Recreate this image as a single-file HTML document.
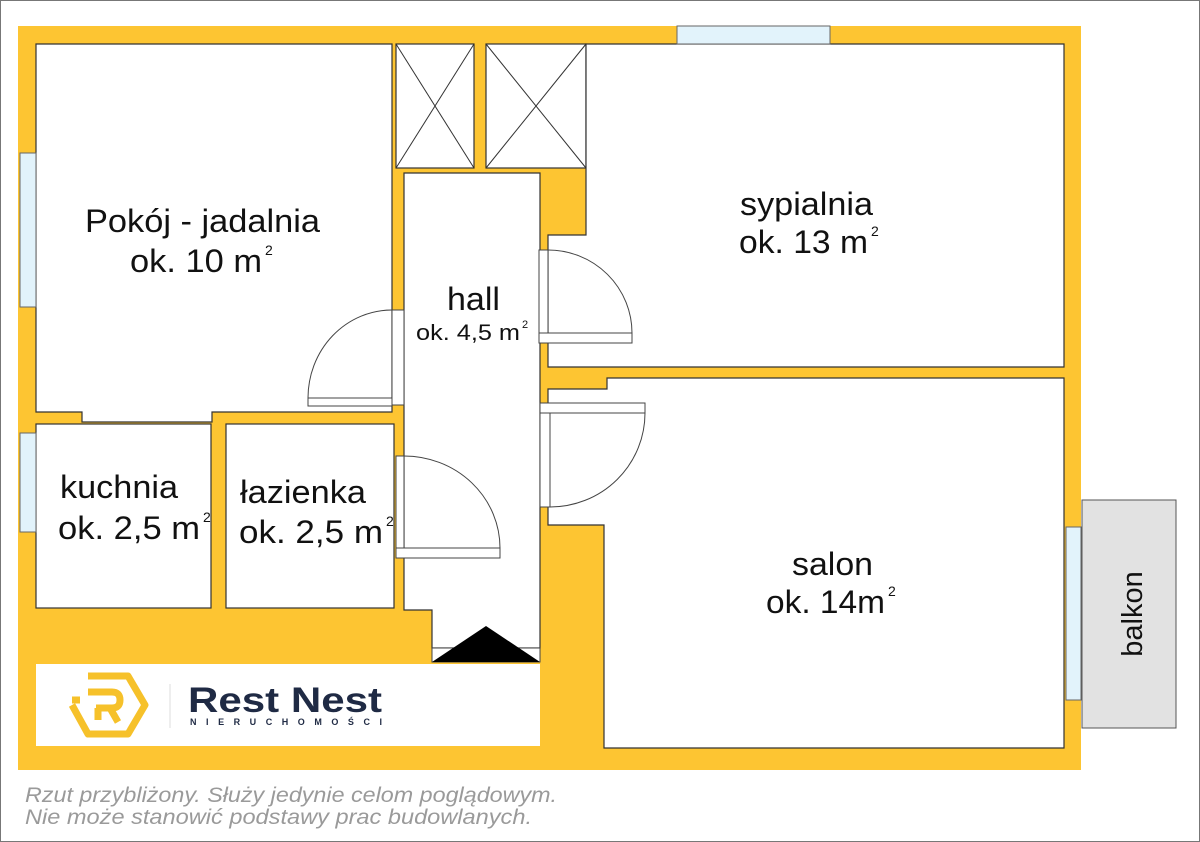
<!DOCTYPE html>
<html><head><meta charset="utf-8"><style>
html,body{margin:0;padding:0;background:#fff;}
svg{display:block;}
text{font-family:"Liberation Sans",sans-serif;fill:#111;}
</style></head><body>
<svg width="1200" height="842" viewBox="0 0 1200 842" xmlns="http://www.w3.org/2000/svg">
<rect x="0.5" y="0.5" width="1199" height="841" fill="#fff" stroke="#777" stroke-width="1"/>
<rect x="18" y="26" width="1063" height="744" fill="#FDC532"/>
<g fill="#fff" stroke="#333" stroke-width="1.2">
 <path d="M36,44 H392 V412 H212 V422 H82 V412 H36 Z"/>
 <rect x="36" y="424" width="175" height="184"/>
 <rect x="226" y="424" width="168" height="184"/>
 <path d="M404,173 H540 V648 H432 V610 H404 Z"/>
 <rect x="396" y="44" width="78" height="124"/>
 <rect x="486" y="44" width="100" height="124"/>
 <path d="M586,44 H1064 V367 H548 V235 H586 Z"/>
 <path d="M548,389 H607 V378 H1064 V748 H604 V525 H548 Z"/>
</g>
<g stroke="#333" stroke-width="1">
 <line x1="396" y1="44" x2="474" y2="168"/><line x1="474" y1="44" x2="396" y2="168"/>
 <line x1="486" y1="44" x2="586" y2="168"/><line x1="586" y1="44" x2="486" y2="168"/>
</g>
<g fill="#e2f3fb" stroke="#666" stroke-width="1">
 <rect x="677" y="26" width="153" height="18"/>
 <rect x="20" y="153" width="16" height="154"/>
 <rect x="20" y="433" width="16" height="99"/>
 <rect x="1066" y="527" width="15" height="173"/>
</g>
<rect x="1082" y="500" width="94" height="228" fill="#e2e2e2" stroke="#555" stroke-width="1"/>
<g fill="#fff" stroke="#444" stroke-width="1">
 <rect x="392" y="310" width="12" height="95"/>
 <rect x="308" y="398" width="84" height="8"/>
 <path d="M392,310 A84,88 0 0 0 308,398" fill="none"/>
 <rect x="539" y="250" width="9" height="93"/>
 <rect x="539" y="333" width="93" height="10"/>
 <path d="M548,250 A84,83 0 0 1 632,333" fill="none"/>
 <rect x="540" y="403" width="105" height="10"/>
 <rect x="540" y="413" width="10" height="94"/>
 <path d="M645,413 A95,94 0 0 1 550,507" fill="none"/>
 <rect x="396" y="456" width="8" height="102"/>
 <rect x="396" y="548" width="104" height="10"/>
 <path d="M404,456 A96,92 0 0 1 500,548" fill="none"/>
 <rect x="432" y="648" width="108" height="14"/>
</g>
<polygon points="432,662 540,662 486,626" fill="#000"/>
<rect x="36" y="664" width="504" height="82" fill="#fff"/>
<g fill="none" stroke="#F6C12A" stroke-width="7" stroke-linejoin="round">
 <path d="M88,676 H128 L145,705 L128,734 H88 L72,705"/>
 <path d="M72,700 H80 M88,692 H112 Q120,692 120,700 Q120,708 112,708 H96 M98,708 V720 M110,708 L118,722"/>
</g>
<line x1="170" y1="684" x2="170" y2="728" stroke="#ddd" stroke-width="1"/>
<text x="188" y="712" font-size="35" font-weight="bold" textLength="194" lengthAdjust="spacingAndGlyphs" style="fill:#1f2a44">Rest Nest</text>
<text x="190" y="725" font-size="9" font-weight="bold" textLength="192" lengthAdjust="spacing" style="fill:#1f2a44">NIERUCHOMOŚCI</text>
<g font-size="32">
 <text x="85" y="232" textLength="235" lengthAdjust="spacingAndGlyphs">Pokój - jadalnia</text>
 <text x="130" y="272" textLength="132" lengthAdjust="spacingAndGlyphs">ok. 10 m</text>
 <text x="265" y="255" font-size="14">2</text>
 <text x="447" y="310" textLength="53" lengthAdjust="spacingAndGlyphs">hall</text>
 <text x="416" y="340" font-size="22" textLength="104" lengthAdjust="spacingAndGlyphs">ok. 4,5 m</text>
 <text x="522" y="328" font-size="11">2</text>
 <text x="740" y="215" textLength="133" lengthAdjust="spacingAndGlyphs">sypialnia</text>
 <text x="739" y="253" textLength="129" lengthAdjust="spacingAndGlyphs">ok. 13 m</text>
 <text x="871" y="236" font-size="14">2</text>
 <text x="60" y="498" textLength="118" lengthAdjust="spacingAndGlyphs">kuchnia</text>
 <text x="58" y="539" textLength="142" lengthAdjust="spacingAndGlyphs">ok. 2,5 m</text>
 <text x="203" y="522" font-size="14">2</text>
 <text x="240" y="503" textLength="126" lengthAdjust="spacingAndGlyphs">łazienka</text>
 <text x="239" y="543" textLength="144" lengthAdjust="spacingAndGlyphs">ok. 2,5 m</text>
 <text x="386" y="526" font-size="14">2</text>
 <text x="792" y="575" textLength="81" lengthAdjust="spacingAndGlyphs">salon</text>
 <text x="766" y="613" textLength="119" lengthAdjust="spacingAndGlyphs">ok. 14m</text>
 <text x="888" y="596" font-size="14">2</text>
 <text transform="translate(1142,614) rotate(-90)" text-anchor="middle" font-size="29">balkon</text>
</g>
<g font-size="21" font-style="italic">
 <text x="25" y="802" textLength="532" lengthAdjust="spacingAndGlyphs" style="fill:#9a9a9a">Rzut przybliżony. Służy jedynie celom poglądowym.</text>
 <text x="25" y="824" textLength="507" lengthAdjust="spacingAndGlyphs" style="fill:#9a9a9a">Nie może stanowić podstawy prac budowlanych.</text>
</g>
</svg>
</body></html>
